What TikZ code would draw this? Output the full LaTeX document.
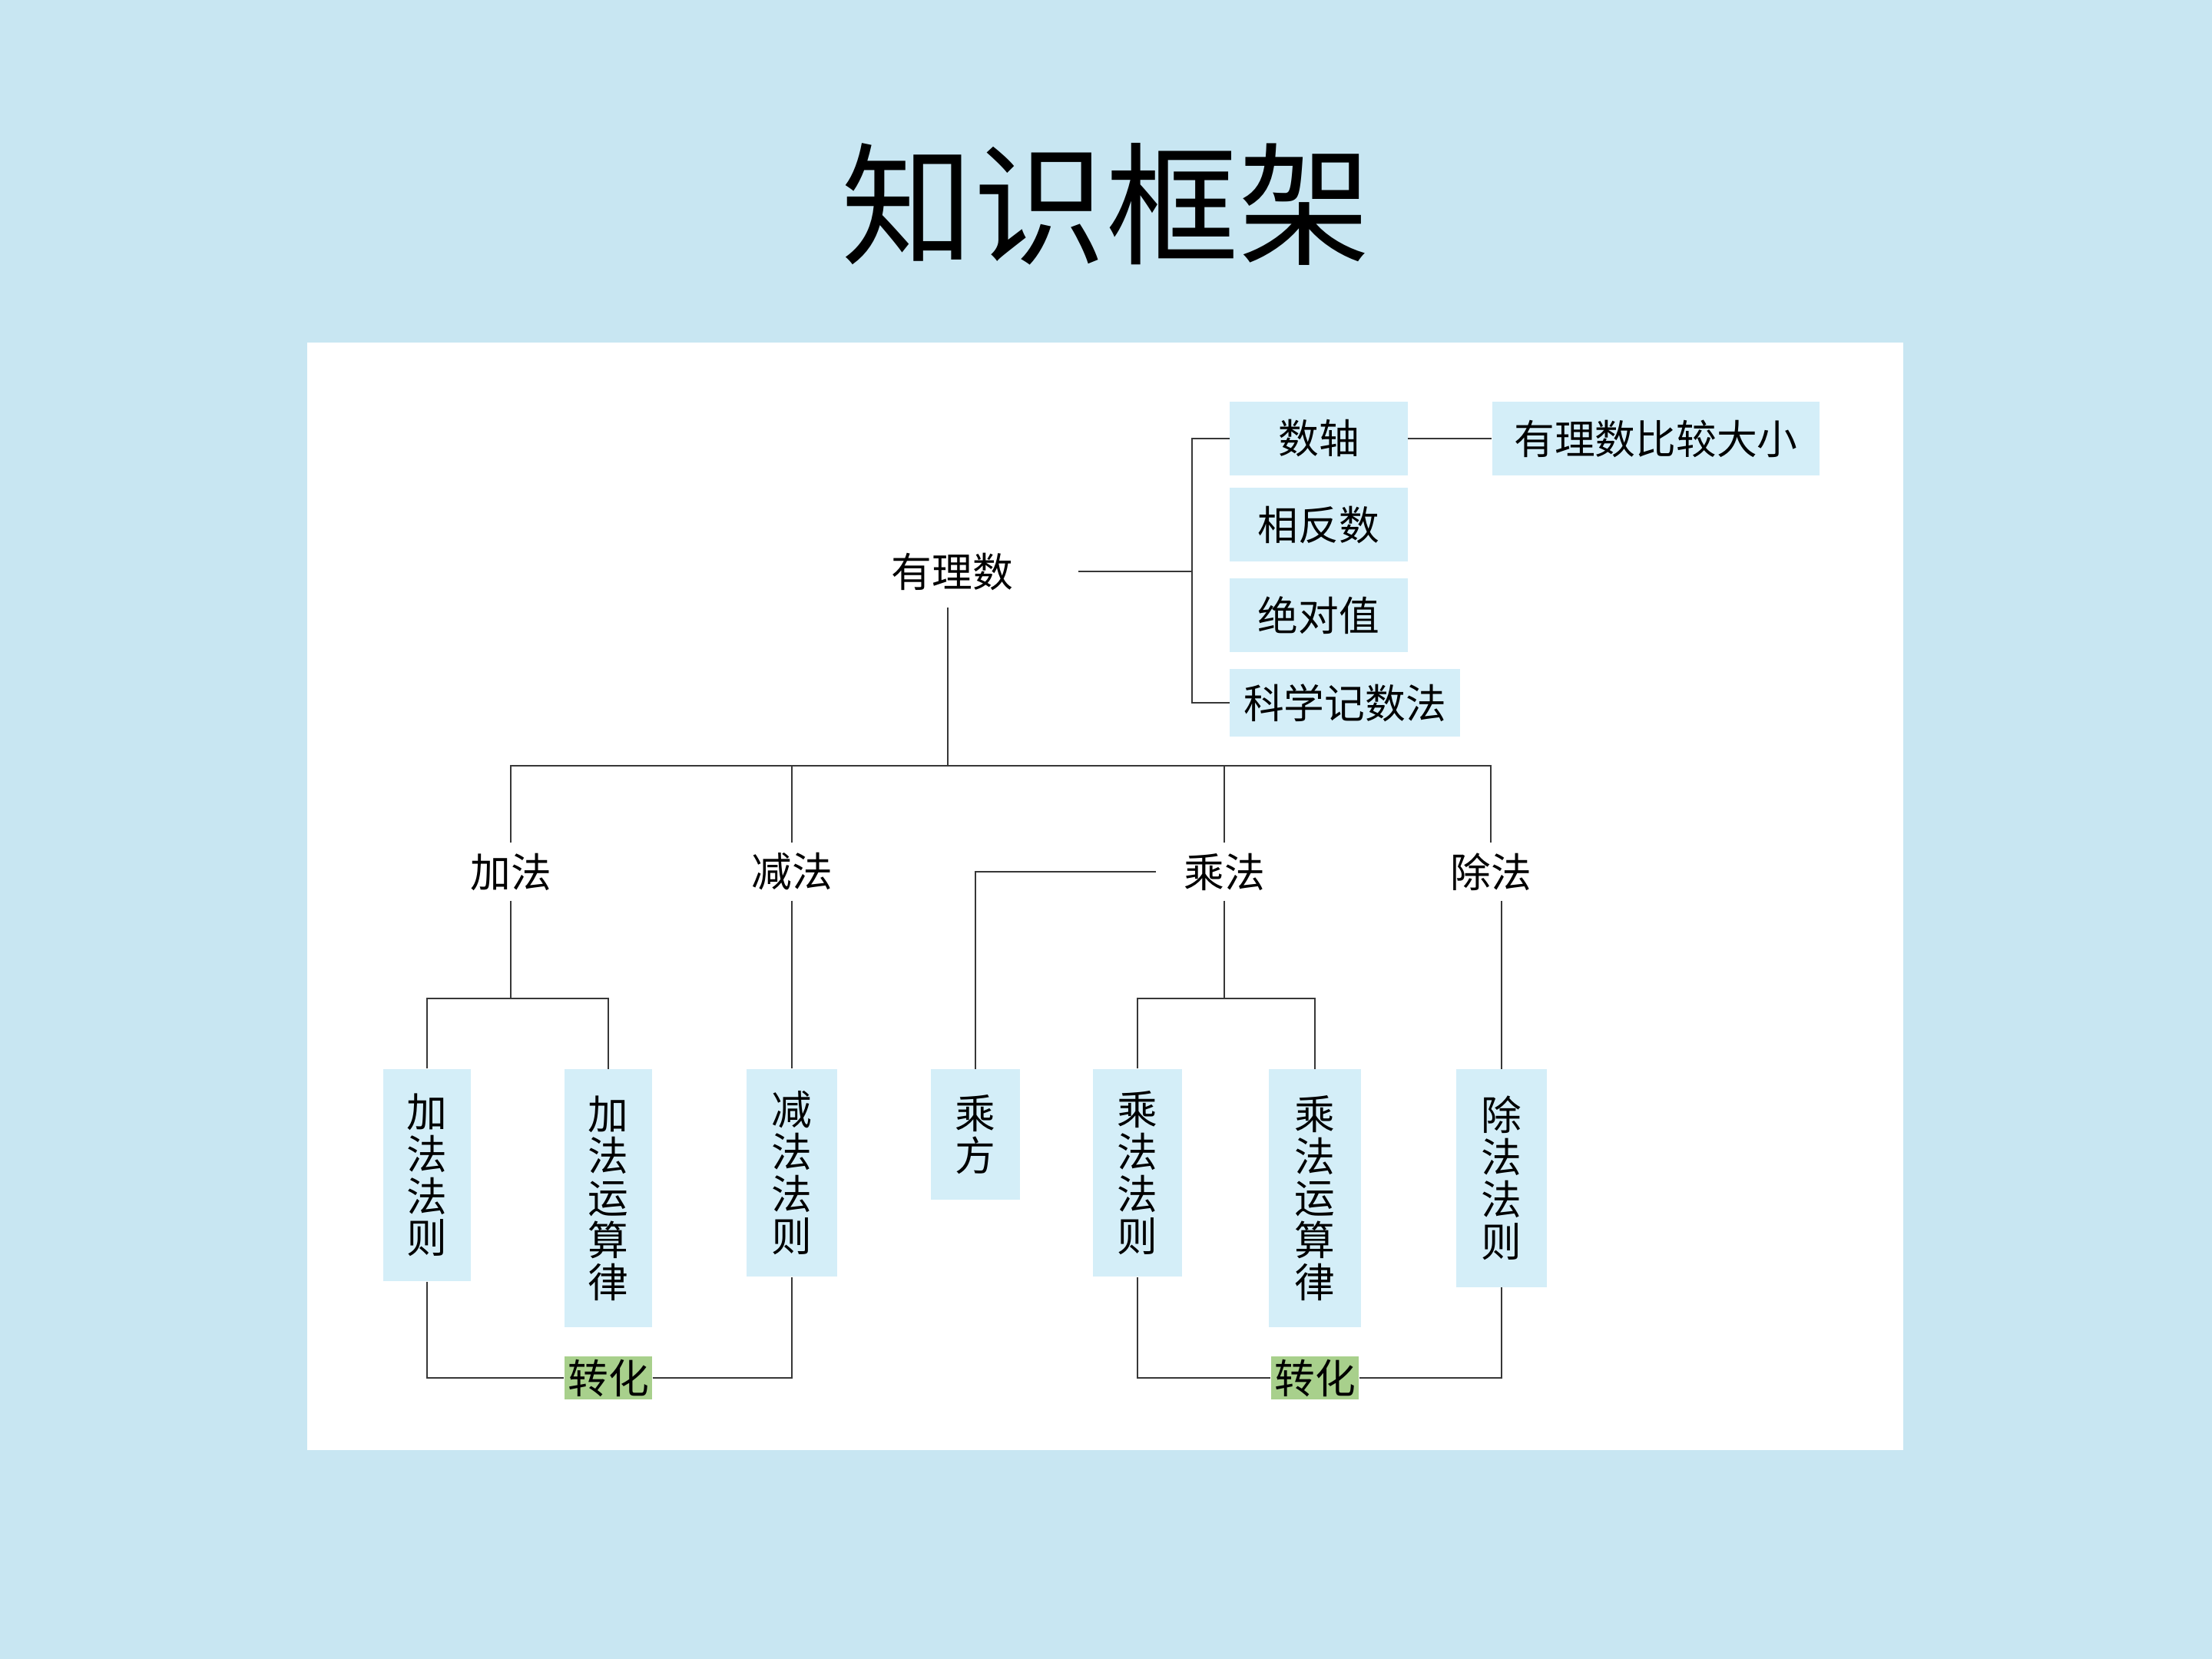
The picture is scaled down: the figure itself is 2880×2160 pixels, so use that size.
\documentclass[tikz,border=0pt]{standalone}
\usepackage{fontspec}
\newfontfamily\cjk{Noto Sans CJK SC}
\definecolor{bgc}{RGB}{200,230,242}
\definecolor{boxc}{RGB}{212,238,248}
\definecolor{greenc}{RGB}{168,208,140}
\definecolor{linec}{RGB}{55,55,55}
\tikzset{
  txt/.style={inner sep=0pt, text=black, font=\cjk\fontsize{15pt}{18pt}\selectfont},
  hbox/.style={txt, fill=boxc},
  lvl/.style={txt, minimum width=1.76cm, minimum height=0.74cm},
  vbox/.style={txt, fill=boxc, align=center, font=\cjk\fontsize{15pt}{15.6pt}\selectfont},
  gbox/.style={txt, fill=greenc, minimum width=1.14cm, minimum height=0.55cm},
  conn/.style={draw=linec, line width=0.8pt},
}
\begin{document}
\begin{tikzpicture}[x=0.01cm, y=-0.01cm]
\useasboundingbox (0,0) rectangle (2880,2160);
\fill[bgc] (0,0) rectangle (2880,2160);
\fill[white] (400,446) rectangle (2478,1888);

% title
\node[font=\cjk\fontsize{49pt}{56pt}\selectfont, inner sep=0pt] (title) at (1440,266) {知识框架};

% top part
\node[txt, minimum width=3.26cm, minimum height=0.92cm] (youlishu) at (1240,744) {有理数};
\node[hbox, minimum width=2.31cm, minimum height=0.96cm] (shuzhou) at (1717,571) {数轴};
\node[hbox, minimum width=4.26cm, minimum height=0.96cm] (bijiao) at (2156,571) {有理数比较大小};
\node[hbox, minimum width=2.31cm, minimum height=0.96cm] (xiangfan) at (1717,683) {相反数};
\node[hbox, minimum width=2.31cm, minimum height=0.96cm] (jdz) at (1717,801) {绝对值};
\node[hbox, minimum width=2.99cm, minimum height=0.88cm] (kexue) at (1751,915) {科学记数法};

\coordinate (brk) at (1552,744);
\coordinate (bus) at (1234,997);

% level 1
\node[lvl] (jiafa) at (665,1135) {加法};
\node[lvl] (jianfa) at (1031,1135) {减法};
\node[lvl] (chengfa) at (1594,1135) {乘法};
\node[lvl] (chufa) at (1941,1135) {除法};

\coordinate (jsplit) at (665,1300);
\coordinate (csplit) at (1594,1300);

% vertical boxes
\node[vbox, minimum width=1.13cm, minimum height=2.76cm] (jfzz) at (556,1530) {加\\法\\法\\则};
\node[vbox, minimum width=1.14cm, minimum height=3.35cm] (jfysl) at (792,1560) {加\\法\\运\\算\\律};
\node[vbox, minimum width=1.18cm, minimum height=2.70cm] (jianfz) at (1031,1527) {减\\法\\法\\则};
\node[vbox, minimum width=1.16cm, minimum height=1.69cm] (chengfang) at (1270,1477) {乘\\方};
\node[vbox, minimum width=1.15cm, minimum height=2.70cm] (cfzz) at (1481,1527) {乘\\法\\法\\则};
\node[vbox, minimum width=1.19cm, minimum height=3.35cm] (cfysl) at (1712,1560) {乘\\法\\运\\算\\律};
\node[vbox, minimum width=1.18cm, minimum height=2.83cm] (chufz) at (1955,1534) {除\\法\\法\\则};

% conversion boxes
\node[gbox] (zh1) at (792,1794) {转化};
\node[gbox] (zh2) at (1712,1794) {转化};

% connectors
\draw[conn] (youlishu.east) -- (brk);
\draw[conn] (shuzhou.west) -| (brk) |- (kexue.west);
\draw[conn] (shuzhou.east) -- (bijiao.west);
\draw[conn] (youlishu.south -| bus) -- (bus);
\draw[conn] (jiafa.north) |- (bus) -| (chufa.north);
\draw[conn] (jianfa.north) -- (jianfa.north |- bus);
\draw[conn] (chengfa.north) -- (chengfa.north |- bus);
\draw[conn] (chengfa.west) -| (chengfang.north);
\draw[conn] (jiafa.south) -- (jsplit);
\draw[conn] (jfzz.north) |- (jsplit) -| (jfysl.north);
\draw[conn] (chengfa.south) -- (csplit);
\draw[conn] (cfzz.north) |- (csplit) -| (cfysl.north);
\draw[conn] (jianfa.south) -- (jianfz.north);
\draw[conn] (chufz.north |- chufa.south) -- (chufz.north);
\draw[conn] (jfzz.south) |- (zh1.west);
\draw[conn] (zh1.east) -| (jianfz.south);
\draw[conn] (cfzz.south) |- (zh2.west);
\draw[conn] (zh2.east) -| (chufz.south);
\end{tikzpicture}
\end{document}
